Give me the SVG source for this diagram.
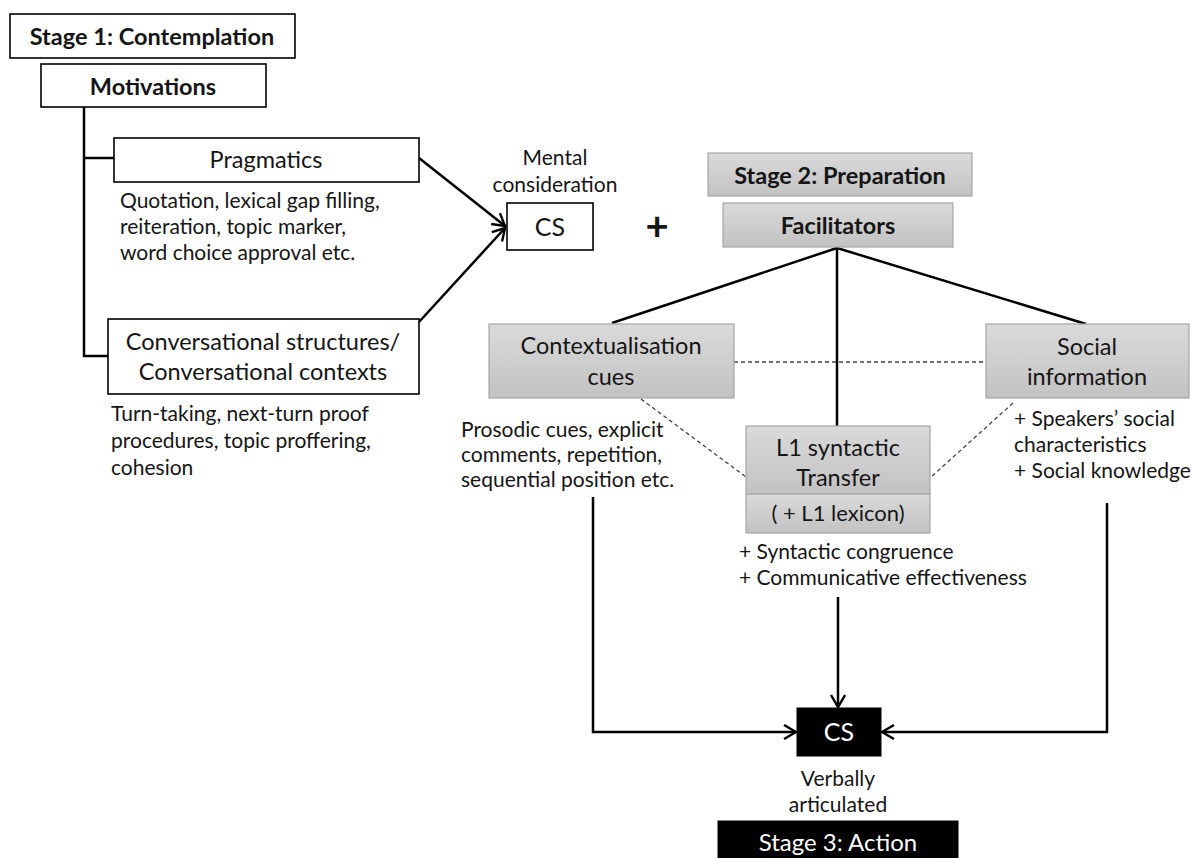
<svg xmlns="http://www.w3.org/2000/svg" width="1192" height="858" viewBox="0 0 1192 858">
<defs>
<linearGradient id="grey" x1="0" y1="0" x2="0" y2="1">
<stop offset="0" stop-color="#dadada"/>
<stop offset="1" stop-color="#c2c2c2"/>
</linearGradient>
<marker id="arr" markerUnits="userSpaceOnUse" markerWidth="16" markerHeight="18" refX="13" refY="8" orient="auto">
<path d="M1,1 L13,8 L1,15" fill="none" stroke="#000" stroke-width="2.4"/>
</marker>
</defs>
<style>
text{font-family:Lato,"Liberation Sans",sans-serif;fill:#151515}
.b{font-weight:bold;font-size:24px}
.lab{font-size:23.5px;text-anchor:middle}
.desc{font-size:21px}
.mid{text-anchor:middle}
.wbox{fill:#fff;stroke:#000;stroke-width:1.6}
.gbox{fill:url(#grey);stroke:#a6a6a6;stroke-width:1.2}
.kbox{fill:#000;stroke:#000}
.w{fill:#fff}
.ln{fill:none;stroke:#000;stroke-width:2.5}
.dash{fill:none;stroke:#444;stroke-width:1.3;stroke-dasharray:4 3}
</style>
<rect width="1192" height="858" fill="#fff"/>
<g id="connectors">
<polyline class="ln" points="84,107 84,356 108,356"/>
<line class="ln" x1="84" y1="158" x2="114" y2="158"/>
<line class="ln" x1="419" y1="158" x2="505" y2="226" marker-end="url(#arr)"/>
<line class="ln" x1="419" y1="322" x2="505" y2="228" marker-end="url(#arr)"/>
<line class="ln" x1="837" y1="248" x2="612" y2="323"/>
<line class="ln" x1="837" y1="248" x2="837" y2="426"/>
<line class="ln" x1="837" y1="248" x2="1086" y2="324"/>
<line class="dash" x1="734" y1="362" x2="986" y2="362"/>
<line class="dash" x1="641" y1="399" x2="746" y2="477"/>
<line class="dash" x1="1013" y1="403" x2="930" y2="478"/>
<polyline class="ln" points="593,497 593,732 796,732" marker-end="url(#arr)"/>
<line class="ln" x1="838" y1="597" x2="838" y2="707" marker-end="url(#arr)"/>
<polyline class="ln" points="1107,503 1107,732 882,732" marker-end="url(#arr)"/>
</g>
<g id="stage1">
<rect class="wbox" x="10" y="14" width="285" height="44"/>
<text class="lab b" x="152" y="44.5">Stage 1: Contemplation</text>
</g>
<g id="motivations">
<rect class="wbox" x="41" y="64" width="225" height="43"/>
<text class="lab b" x="153" y="94.5">Motivations</text>
</g>
<g id="pragmatics">
<rect class="wbox" x="114" y="138" width="305" height="44"/>
<text class="lab" x="266" y="168">Pragmatics</text>
<text class="desc" x="120" y="207.5">Quotation, lexical gap filling,</text>
<text class="desc" x="120" y="233.5">reiteration, topic marker,</text>
<text class="desc" x="120" y="259.5">word choice approval etc.</text>
</g>
<g id="conversational">
<rect class="wbox" x="108" y="319" width="311" height="75"/>
<text class="lab" x="263" y="350">Conversational structures/</text>
<text class="lab" x="263" y="380">Conversational contexts</text>
<text class="desc" x="111" y="420.5">Turn-taking, next-turn proof</text>
<text class="desc" x="111" y="447.5">procedures, topic proffering,</text>
<text class="desc" x="111" y="474.5">cohesion</text>
</g>
<g id="cs-mental">
<text class="desc mid" x="555" y="164.5">Mental</text>
<text class="desc mid" x="555" y="191.5">consideration</text>
<rect class="wbox" x="507" y="203" width="86" height="47"/>
<text class="lab" x="550" y="235.5" style="font-size:25px">CS</text>
</g>
<g id="plus">
<text x="657" y="240" style="font-size:40px;font-weight:bold;text-anchor:middle">+</text>
</g>
<g id="stage2">
<rect class="gbox" x="708" y="153" width="264" height="43"/>
<text class="lab b" x="840" y="183.5">Stage 2: Preparation</text>
</g>
<g id="facilitators">
<rect class="gbox" x="723" y="203" width="230" height="44"/>
<text class="lab b" x="838" y="233.5">Facilitators</text>
</g>
<g id="contextualisation">
<rect class="gbox" x="489" y="324" width="245" height="74"/>
<text class="lab" x="611" y="354">Contextualisation</text>
<text class="lab" x="611" y="385">cues</text>
<text class="desc" x="461" y="436.5">Prosodic cues, explicit</text>
<text class="desc" x="461" y="461.5">comments, repetition,</text>
<text class="desc" x="461" y="486.5">sequential position etc.</text>
</g>
<g id="social">
<rect class="gbox" x="986" y="324" width="203" height="74"/>
<text class="lab" x="1087" y="355">Social</text>
<text class="lab" x="1087" y="385">information</text>
<text class="desc" x="1014" y="425.5">+ Speakers’ social</text>
<text class="desc" x="1014" y="451.5">characteristics</text>
<text class="desc" x="1014" y="477.5">+ Social knowledge</text>
</g>
<g id="l1transfer">
<rect class="gbox" x="746" y="426" width="184" height="68"/>
<rect class="gbox" x="746" y="494" width="184" height="39"/>
<text class="lab" x="838" y="456">L1 syntactic</text>
<text class="lab" x="838" y="486">Transfer</text>
<text class="lab" x="838" y="521" style="font-size:22px">( + L1 lexicon)</text>
<text class="desc" x="739" y="558.5">+ Syntactic congruence</text>
<text class="desc" x="739" y="584.5">+ Communicative effectiveness</text>
</g>
<g id="cs-verbal">
<rect class="kbox" x="797" y="708" width="84" height="48"/>
<text class="lab w" x="839" y="741" style="font-size:25px">CS</text>
<text class="desc mid" x="838" y="785.5">Verbally</text>
<text class="desc mid" x="838" y="811.5">articulated</text>
</g>
<g id="stage3">
<rect class="kbox" x="718" y="821" width="240" height="40"/>
<text class="lab w" x="838" y="851" style="font-size:24px">Stage 3: Action</text>
</g>
</svg>
